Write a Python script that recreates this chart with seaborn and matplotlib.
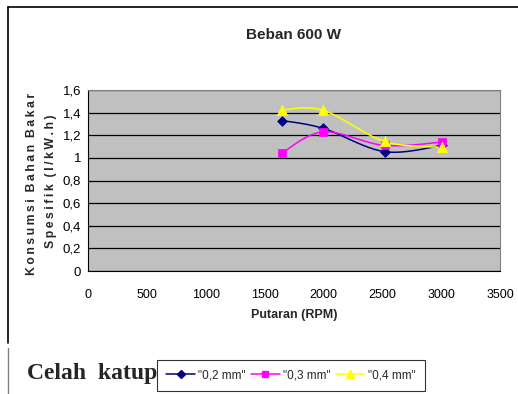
import numpy as np
import pandas as pd
import matplotlib
matplotlib.use("Agg")
import matplotlib.pyplot as plt
from matplotlib.lines import Line2D
import seaborn as sns

# Engine speed (RPM) and specific fuel consumption (l/kW.h) per valve clearance
rpm = [1650, 2000, 2520, 3010]
sfc_02 = [1.33, 1.26, 1.055, 1.11]
sfc_03 = [1.045, 1.23, 1.11, 1.14]
sfc_04 = [1.425, 1.42, 1.145, 1.093]
series_labels = ['"0,2 mm"', '"0,3 mm"', '"0,4 mm"']
y_ticks = [0, 0.2, 0.4, 0.6, 0.8, 1.0, 1.2, 1.4, 1.6]
x_ticks = [0, 500, 1000, 1500, 2000, 2500, 3000, 3500]

colors = ["#000080", "#FF00FF", "#FFFF00"]
markers = ["D", "s", "^"]
msizes = [5, 6, 7.5]

sns.set_theme(style="white")
plt.rcParams["font.family"] = ["Liberation Sans", "DejaVu Sans"]


def smooth(xs, ys, n=40):
    """Catmull-Rom style Bezier smoothing through the given points."""
    p = np.column_stack([xs, ys]).astype(float)
    scale = np.array([3500.0, 1.6])
    q = p / scale
    out = []
    for i in range(len(q) - 1):
        p0 = q[i - 1] if i > 0 else q[i]
        p1, p2 = q[i], q[i + 1]
        p3 = q[i + 2] if i + 2 < len(q) else q[i + 1]
        c1 = p1 + (p2 - p0) / 6.0
        c2 = p2 - (p3 - p1) / 6.0
        t = np.linspace(0, 1, n)[:, None]
        seg = ((1 - t) ** 3) * p1 + 3 * ((1 - t) ** 2) * t * c1 + 3 * (1 - t) * t ** 2 * c2 + t ** 3 * p2
        out.append(seg if i == 0 else seg[1:])
    s = np.vstack(out) * scale
    return s[:, 0], s[:, 1]


fig = plt.figure(figsize=(5.18, 3.94), dpi=100)
fig.patch.set_facecolor("white")
ax = fig.add_axes([88 / 518, 1 - 271 / 394, 412 / 518, 181 / 394])
ax.set_facecolor("#C0C0C0")

for ys, lab, c, m, ms in zip([sfc_02, sfc_03, sfc_04], series_labels, colors, markers, msizes):
    sx, sy = smooth(rpm, ys)
    curve = pd.DataFrame({"x": sx, "y": sy})
    sns.lineplot(data=curve, x="x", y="y", sort=False, color=c, lw=1.1, ax=ax, zorder=3)
    pts = pd.DataFrame({"x": rpm, "y": ys})
    sns.scatterplot(data=pts, x="x", y="y", marker=m, s=ms ** 2, color=c,
                    edgecolor=c, linewidth=0.5, ax=ax, zorder=4)

ax.set_xlim(0, 3500)
ax.set_ylim(0, 1.6)
ax.set_xticks(x_ticks)
ax.set_yticks(y_ticks)
ax.set_xticklabels([str(v) for v in x_ticks], fontsize=9)
ax.set_yticklabels([("%g" % v).replace(".", ",") for v in y_ticks], fontsize=9.5)
ax.yaxis.grid(True, color="black", lw=0.9)
ax.xaxis.grid(False)
ax.set_axisbelow(True)
for side in ["top", "right"]:
    ax.spines[side].set_color("#808080")
    ax.spines[side].set_linewidth(0.8)
for side in ["left", "bottom"]:
    ax.spines[side].set_color("black")
    ax.spines[side].set_linewidth(0.8)
ax.tick_params(axis="both", direction="out", length=3, width=0.8, color="black", pad=2, labelcolor="black")
ax.tick_params(axis="x", pad=10)
ax.set_xlabel("Putaran (RPM)", fontsize=9, fontweight="bold", labelpad=6)
ax.set_ylabel("")

fig.text(0.5 * (88 + 500) / 518, 1 - 35 / 394, "Beban 600 W", ha="center", va="center",
         fontsize=11, fontweight="bold")

sp = "\u2009"
line1 = sp.join("Konsumsi") + "  " + sp.join("Bahan") + "  " + sp.join("Bakar")
line2 = sp.join("Spesifik") + "  " + sp.join("(l/kW.h)")
fig.text(32 / 518, 1 - 184 / 394, line1, rotation=90, ha="center", va="center",
         fontsize=8.8, fontweight="bold")
fig.text(51 / 518, 1 - 181 / 394, line2, rotation=90, ha="center", va="center",
         fontsize=8.8, fontweight="bold")

# chart frame
fig.add_artist(Line2D([8 / 518, 1], [1 - 7 / 394, 1 - 7 / 394], color="black", lw=1.2))
fig.add_artist(Line2D([8 / 518, 8 / 518], [1 - 7 / 394, 1 - 343 / 394], color="black", lw=1.2))
fig.add_artist(Line2D([8 / 518, 8 / 518], [1 - 348 / 394, 0], color="#808080", lw=1.0))

fig.text(27 / 518, 1 - 373 / 394, "Celah  katup", ha="left", va="center",
         fontsize=17, fontweight="bold", family=["Liberation Serif", "DejaVu Serif"])

handles = [Line2D([], [], color=c, marker=m, markersize=ms * 0.75, lw=1.1, markeredgecolor=c)
           for c, m, ms in zip(colors, markers, msizes)]
leg = fig.legend(handles, series_labels, ncol=3, loc="center left",
                 bbox_to_anchor=(157 / 518, 1 - 375.5 / 394), frameon=True, fancybox=False,
                 edgecolor="black", fontsize=8.5, handlelength=2.4, handletextpad=0.3,
                 columnspacing=0.45, borderpad=0.8, borderaxespad=0)
leg.get_frame().set_linewidth(0.8)

fig.savefig("out.png", dpi=100, facecolor="white")
